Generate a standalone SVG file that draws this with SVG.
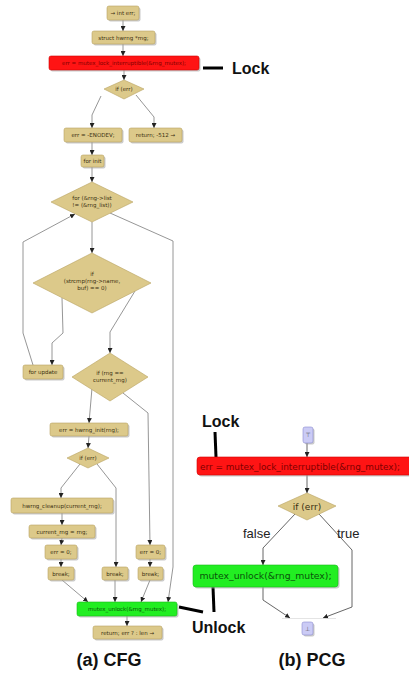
<svg xmlns="http://www.w3.org/2000/svg" width="409" height="677" viewBox="0 0 409 677">
<style>
.n{fill:#dcc98a;stroke:#b9a262;stroke-width:0.6}
.sh{fill:#a8a8a8;opacity:0.6}
.r{fill:#ff1414;stroke:#d00000;stroke-width:0.6}
.g{fill:#22ee22;stroke:#18b818;stroke-width:0.6}
.p{fill:#cbcbf5;stroke:#8c8cd0;stroke-width:0.6}
.t{font-family:"DejaVu Sans",sans-serif;font-size:5.5px;fill:#3a3010;text-anchor:middle}
.tr{font-family:"DejaVu Sans",sans-serif;fill:#800000}
.tg{font-family:"DejaVu Sans",sans-serif;fill:#0a520a}
.pt{font-family:"DejaVu Sans",sans-serif;font-size:9px;fill:#3a3010;text-anchor:middle}
.lb{font-family:"Liberation Sans",Arial,sans-serif;font-weight:bold;fill:#111}
.el{font-family:"Liberation Sans",Arial,sans-serif;font-size:13px;fill:#222}
.c{fill:none;stroke:#8a8a8a;stroke-width:0.9}
.cp{fill:none;stroke:#555;stroke-width:0.9}
.k{fill:none;stroke:#000;stroke-width:3}
</style>
<defs>
<marker id="a" viewBox="0 0 10 10" refX="10" refY="5" markerWidth="5" markerHeight="5" orient="auto" markerUnits="userSpaceOnUse"><path d="M0,0 L10,5 L0,10 z" fill="#222"/></marker>
</defs>
<rect width="409" height="677" fill="#fff"/>
<g id="connectors">
<path class="c" d="M123,20 L123,31" marker-end="url(#a)"/>
<path class="c" d="M123,44 L123,56" marker-end="url(#a)"/>
<path class="c" d="M124,70 L124,80" marker-end="url(#a)"/>
<path class="c" d="M101,96 L92,115 L92,128" marker-end="url(#a)"/>
<path class="c" d="M136,95 L154,117 L154,128" marker-end="url(#a)"/>
<path class="c" d="M92,142 L92,155" marker-end="url(#a)"/>
<path class="c" d="M92,167 L92,182" marker-end="url(#a)"/>
<path class="c" d="M92,222 L92,253" marker-end="url(#a)"/>
<path class="c" d="M33,365 L23,333 L23,242 L75,214" marker-end="url(#a)"/>
<path class="c" d="M110,213 L173,241 L173,567 L168,602" marker-end="url(#a)"/>
<path class="c" d="M62,298 L63,333 L52,343 L52,365" marker-end="url(#a)"/>
<path class="c" d="M135,291 L110,332 L110,353" marker-end="url(#a)"/>
<path class="c" d="M92,388 L89,423" marker-end="url(#a)"/>
<path class="c" d="M123,393 L148,413 L150,545" marker-end="url(#a)"/>
<path class="c" d="M89,436 L88,448" marker-end="url(#a)"/>
<path class="c" d="M80,464 L61,488 L61,498" marker-end="url(#a)"/>
<path class="c" d="M97,464 L116,488 L116,567" marker-end="url(#a)"/>
<path class="c" d="M62,513 L62,525" marker-end="url(#a)"/>
<path class="c" d="M62,538 L61,545" marker-end="url(#a)"/>
<path class="c" d="M61,559 L61,567" marker-end="url(#a)"/>
<path class="c" d="M150,559 L150,567" marker-end="url(#a)"/>
<path class="c" d="M62,580 L88,602" marker-end="url(#a)"/>
<path class="c" d="M115,580 L115,602" marker-end="url(#a)"/>
<path class="c" d="M150,580 L141,602" marker-end="url(#a)"/>
<path class="c" d="M127,616 L127,626" marker-end="url(#a)"/>
<path class="cp" d="M307,443 L307,457" marker-end="url(#a)"/>
<path class="cp" d="M307,475 L307,493" marker-end="url(#a)"/>
<path class="cp" d="M295,514 L263,548 L263,565" marker-end="url(#a)"/>
<path class="cp" d="M319,514 L352,550 L352,607 L323,618" marker-end="url(#a)"/>
<path class="cp" d="M263,587 L263,600 L290,618" marker-end="url(#a)"/>
<path d="M282,618.5 L336,618.5" stroke="#ddd" stroke-width="0.8"/>
<path class="k" d="M203,68 L223,68"/>
<path class="k" d="M215,432 L216,457"/>
<path class="k" d="M179,607 L203,612"/>
<path class="k" d="M213,587 L214,612"/>
</g>
<g id="n1"><rect class="sh" x="108.5" y="7.5" width="32" height="14" rx="2"/><rect class="n" x="107" y="6" width="32" height="14" rx="2"/><text class="t" x="123" y="15">→ int err;</text></g>
<g id="n2"><rect class="sh" x="93.5" y="32.5" width="63" height="13" rx="2"/><rect class="n" x="92" y="31" width="63" height="13" rx="2"/><text class="t" x="123.5" y="39.5">struct hwrng *rng;</text></g>
<g id="n3"><rect class="sh" x="50.5" y="57.5" width="150" height="14" rx="2"/><rect class="r" x="49" y="56" width="150" height="14" rx="2"/><text class="tr" x="124" y="65" font-size="5.5" text-anchor="middle">err = mutex_lock_interruptible(&amp;rng_mutex);</text></g>
<g id="n4"><polygon class="n" points="104,89 124,80 144,89 124,99"/><text class="t" x="124" y="91">if (err)</text></g>
<g id="n5"><rect class="sh" x="65.5" y="129.5" width="58" height="14" rx="2"/><rect class="n" x="64" y="128" width="58" height="14" rx="2"/><text class="t" x="93" y="137">err = -ENODEV;</text></g>
<g id="n6"><rect class="sh" x="130.5" y="129.5" width="53" height="14" rx="2"/><rect class="n" x="129" y="128" width="53" height="14" rx="2"/><text class="t" x="155.5" y="137">return; -512 →</text></g>
<g id="n7"><rect class="sh" x="82.5" y="156.5" width="23" height="12" rx="2"/><rect class="n" x="81" y="155" width="23" height="12" rx="2"/><text class="t" x="92.5" y="163">for init</text></g>
<g id="n8"><polygon class="n" points="51,202 92,182 133,202 92,222"/><text class="t" x="92" y="200">for (&amp;rng-&gt;list</text><text class="t" x="92" y="207">!= (&amp;rng_list))</text></g>
<g id="n9"><polygon class="n" points="33,283 92,253 151,283 92,313"/><text class="t" x="92" y="276">if</text><text class="t" x="92" y="283">(strcmp(rng-&gt;name,</text><text class="t" x="92" y="290">buf) == 0)</text></g>
<g id="n10"><rect class="sh" x="24.5" y="366.5" width="40" height="14" rx="2"/><rect class="n" x="23" y="365" width="40" height="14" rx="2"/><text class="t" x="43" y="374">for update</text></g>
<g id="n11"><polygon class="n" points="72,377 110,353 148,377 110,401"/><text class="t" x="110" y="375">if (rng ==</text><text class="t" x="110" y="382">current_rng)</text></g>
<g id="n12"><rect class="sh" x="51.5" y="424.5" width="78" height="13" rx="2"/><rect class="n" x="50" y="423" width="78" height="13" rx="2"/><text class="t" x="89" y="431.5">err = hwrng_init(rng);</text></g>
<g id="n13"><polygon class="n" points="67,458 88,448 109,458 88,468"/><text class="t" x="88" y="460">if (err)</text></g>
<g id="n14"><rect class="sh" x="12.5" y="499.5" width="102" height="15" rx="2"/><rect class="n" x="11" y="498" width="102" height="15" rx="2"/><text class="t" x="62" y="507.5">hwrng_cleanup(current_rng);</text></g>
<g id="n15"><rect class="sh" x="30.5" y="526.5" width="66" height="13" rx="2"/><rect class="n" x="29" y="525" width="66" height="13" rx="2"/><text class="t" x="62" y="533.5">current_rng = rng;</text></g>
<g id="n16"><rect class="sh" x="46.5" y="546.5" width="32" height="14" rx="2"/><rect class="n" x="45" y="545" width="32" height="14" rx="2"/><text class="t" x="61" y="554">err = 0;</text></g>
<g id="n17"><rect class="sh" x="137.5" y="546.5" width="29" height="14" rx="2"/><rect class="n" x="136" y="545" width="29" height="14" rx="2"/><text class="t" x="150.5" y="554">err = 0;</text></g>
<g id="n18"><rect class="sh" x="49.5" y="568.5" width="26" height="13" rx="2"/><rect class="n" x="48" y="567" width="26" height="13" rx="2"/><text class="t" x="61" y="575.5">break;</text></g>
<g id="n19"><rect class="sh" x="103.5" y="568.5" width="26" height="13" rx="2"/><rect class="n" x="102" y="567" width="26" height="13" rx="2"/><text class="t" x="115" y="575.5">break;</text></g>
<g id="n20"><rect class="sh" x="139.5" y="568.5" width="25" height="13" rx="2"/><rect class="n" x="138" y="567" width="25" height="13" rx="2"/><text class="t" x="150.5" y="575.5">break;</text></g>
<g id="n21"><rect class="sh" x="78.5" y="603.5" width="100" height="14" rx="2"/><rect class="g" x="77" y="602" width="100" height="14" rx="2"/><text class="tg" x="127" y="611" font-size="5.5" text-anchor="middle">mutex_unlock(&amp;rng_mutex);</text></g>
<g id="n22"><rect class="sh" x="94.5" y="627.5" width="69" height="13" rx="2"/><rect class="n" x="93" y="626" width="69" height="13" rx="2"/><text class="t" x="127.5" y="634.5">return; err ? : len →</text></g>
<g id="p1"><rect class="sh" x="304.5" y="428.5" width="10" height="16" rx="2"/><rect class="p" x="303" y="427" width="10" height="16" rx="2"/><text x="308" y="437" font-family="DejaVu Sans,sans-serif" font-size="6" fill="#555" text-anchor="middle">⊤</text></g>
<g id="p2"><rect class="sh" x="198.5" y="458.5" width="230" height="18" rx="3"/><rect class="r" x="197" y="457" width="230" height="18" rx="3"/><text class="tr" x="200" y="469.5" font-size="8.9">err = mutex_lock_interruptible(&amp;rng_mutex);</text></g>
<g id="p3"><polygon class="n" points="278,506 307,493 336,506 307,520"/><text class="pt" x="307" y="509.5">if (err)</text></g>
<g id="p4"><rect class="sh" x="194.5" y="566.5" width="145" height="22" rx="3"/><rect class="g" x="193" y="565" width="145" height="22" rx="3"/><text class="tg" x="265.5" y="579" font-size="9.3" text-anchor="middle">mutex_unlock(&amp;rng_mutex);</text></g>
<g id="p5"><rect class="sh" x="303.5" y="623.5" width="11" height="13" rx="2"/><rect class="p" x="302" y="622" width="11" height="13" rx="2"/><text x="307.5" y="631" font-family="DejaVu Sans,sans-serif" font-size="6" fill="#555" text-anchor="middle">⊥</text></g>
<g id="labels">
<text class="el" x="243" y="538">false</text>
<text class="el" x="337" y="538">true</text>
<text class="lb" x="232" y="74" font-size="16">Lock</text>
<text class="lb" x="202" y="427" font-size="16">Lock</text>
<text class="lb" x="192" y="633" font-size="16">Unlock</text>
<text class="lb" x="109" y="666" font-size="18" text-anchor="middle">(a) CFG</text>
<text class="lb" x="312" y="666" font-size="18" text-anchor="middle">(b) PCG</text>
</g>
</svg>
